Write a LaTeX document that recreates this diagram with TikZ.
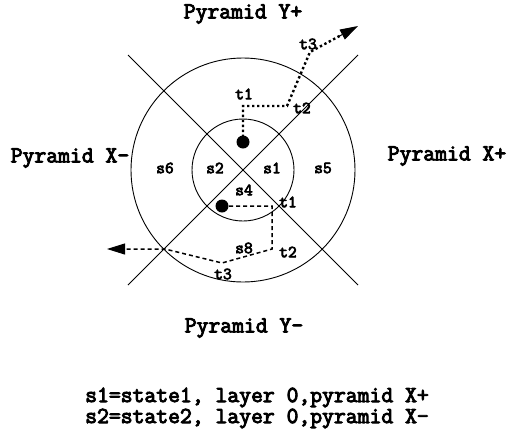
\documentclass[tikz,border=0pt]{standalone}
\usepackage{fontspec}
\newfontfamily\courb[FakeBold=4]{Latin Modern Mono}
\usetikzlibrary{arrows.meta,calc}
\tikzset{
  big/.style={font=\courb\fontsize{23}{21}\selectfont, inner sep=0pt},
  small/.style={font=\courb\fontsize{17}{17}\selectfont, inner sep=0pt},
  thinline/.style={line width=0.9pt},
  dotpath/.style={line width=2.4pt, dash pattern=on 2.4pt off 2.6pt},
  dashpath/.style={line width=1.5pt, dash pattern=on 4pt off 3pt},
  ball/.style={circle, fill=black, minimum size=13pt, inner sep=0pt},
  tip/.style={-{Triangle[length=18pt,width=11pt]}}
}
\begin{document}
\begin{tikzpicture}[x=1pt,y=-1pt]
\useasboundingbox (0,0) rectangle (514,429);
\coordinate (c) at (243,170);
\draw[thinline] (c) circle[radius=112];
\draw[thinline] (c) circle[radius=51];
\coordinate (d1a) at (128,55);
\coordinate (d1b) at (358,285);
\coordinate (d2a) at (358,55);
\coordinate (d2b) at (128,285);
\draw[thinline] (d1a) -- (d1b);
\draw[thinline] (d2a) -- (d2b);
% upper path
\coordinate (u1) at (243,106);
\coordinate (u2) at (287,106);
\coordinate (u3) at (310,52);
\coordinate (u4) at (358,26);
\node[ball] (dotU) at (243,142) {};
\draw[dotpath] (dotU.center) -- (u1) -- (u2) -- (u3) -- ($(u3)!0.62!(u4)$);
\draw[line width=1pt, tip] ($(u3)!0.6!(u4)$) -- (u4);
% lower path
\coordinate (l1) at (272,206);
\coordinate (l2) at (272,249);
\coordinate (l3) at (222,263);
\coordinate (l4) at (165,249);
\coordinate (l5) at (107,249);
\node[ball] (dotL) at (222,206) {};
\draw[dashpath] (dotL.center) -- (l1) -- (l2) -- (l3) -- (l4) -- ($(l4)!0.75!(l5)$);
\draw[line width=1pt, tip] ($(l4)!0.7!(l5)$) -- (l5);
% labels
\node[big] (py) at (243,14) {Pyramid Y+};
\node[big] (pxm) at (70,158) {Pyramid X-};
\node[big] (pxp) at (447,156) {Pyramid X+};
\node[big] (pym) at (244,328) {Pyramid Y-};
\node[small] (s1) at (272,168) {s1};
\node[small] (s2) at (215,168) {s2};
\node[small] (s4) at (244,190) {s4};
\node[small] (s5) at (323,168) {s5};
\node[small] (s6) at (165,168) {s6};
\node[small] (s8) at (244,248) {s8};
\node[small] (t1u) at (244,94) {t1};
\node[small] (t2u) at (302,108) {t2};
\node[small] (t3u) at (308,44) {t3};
\node[small] (t1l) at (288,202) {t1};
\node[small] (t2l) at (288,252) {t2};
\node[small] (t3l) at (223,274) {t3};
\node[big, align=left] (legend) at (257,408) {s1=state1, layer 0,pyramid X+\\s2=state2, layer 0,pyramid X-};
\end{tikzpicture}
\end{document}
